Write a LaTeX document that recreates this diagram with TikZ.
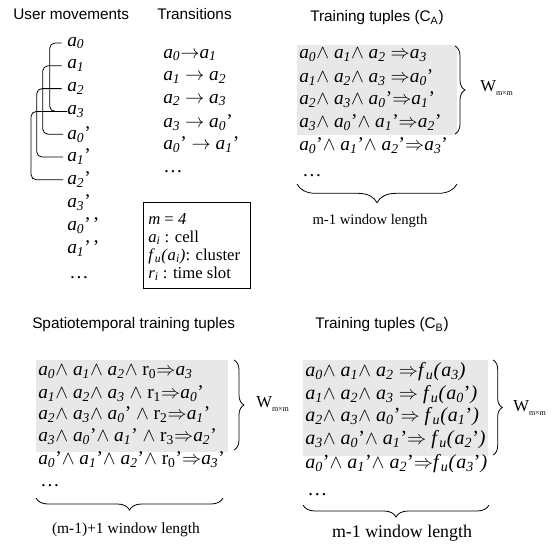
\documentclass[tikz,border=0pt]{standalone}
\usepackage{fontspec}
\setmainfont{Liberation Serif}
\newfontfamily\hdfont{Liberation Sans}
\usetikzlibrary{decorations.pathreplacing,fit}
\definecolor{boxgray}{HTML}{E8E8E8}
\newcommand\sa[1]{\textit{a}\textsubscript{\textit{#1}}}
\newcommand\w{\(\wedge\)}
\newcommand\R{\(\Rightarrow\)}
\newcommand\ra{\(\rightarrow\)}
\newcommand\fu[1]{\textit{f}\textsubscript{\textit{u}}\textit{(}#1\textit{)}}
\newcommand\rr[1]{r\textsubscript{#1}}
\newcommand\wmm{W\raisebox{-2.5pt}{\fontsize{6}{6}\selectfont m×m}}
\begin{document}
\begin{tikzpicture}[x=0.75pt,y=-0.75pt,
  hd/.style={font=\hdfont\fontsize{11.5}{12}\selectfont,inner sep=0,anchor=west},
  ml/.style={font=\fontsize{14.5}{15}\selectfont,inner sep=0,anchor=west},
  mlb/.style={font=\fontsize{15}{16}\selectfont,inner sep=0,anchor=west},
  kl/.style={font=\fontsize{12.5}{13}\selectfont,inner sep=0,anchor=west},
  graybox/.style={fill=boxgray,draw=none,inner sep=0},
  conn/.style={draw=black,line width=0.6pt,rounded corners=4pt},
  brc/.style={draw=black,line width=0.6pt,decorate,decoration={brace,amplitude=#1}},
  wl/.style={font=\fontsize{#1}{#1}\selectfont,inner sep=0}]
\useasboundingbox (0,0) rectangle (555,546);

% headings
\node[hd] (hUM) at (13,14) {User movements};
\node[hd] (hTR) at (157,14) {Transitions};
\node[hd] (hCA) at (310,18) {Training tuples (C\textsubscript{A})};
\node[hd] (hST) at (32,325) {Spatiotemporal training tuples};
\node[hd] (hCB) at (315,325) {Training tuples (C\textsubscript{B})};

% user movements column
\node[ml] (u0) at (67,43) {\sa0};
\node[ml] (u1) at (67,65.8) {\sa1};
\node[ml] (u2) at (67,88.6) {\sa2};
\node[ml] (u3) at (67,111.4) {\sa3};
\node[ml] (u4) at (67,134.2) {\sa0’};
\node[ml] (u5) at (67,157) {\sa1’};
\node[ml] (u6) at (67,179.8) {\sa2’};
\node[ml] (u7) at (67,202.6) {\sa3’};
\node[ml] (u8) at (67,225.4) {\sa0’\kern1.5pt’};
\node[ml] (u9) at (67,248.2) {\sa1’\kern1.5pt’};
\node[ml] (u10) at (69,278) {\dots};

% connectors
\draw[conn] ([xshift=-4pt]u0.west) -- ++(-12,0) |- (u3.west);
\draw[conn] ([xshift=-4pt]u1.west) -- ++(-19,0) |- ([xshift=-3pt]u4.west);
\draw[conn] ([xshift=-4pt]u2.west) -- ++(-25,0) |- ([xshift=-3pt]u5.west);
\draw[conn] (u3.west) -- ++(-36,0) |- ([xshift=-3pt]u6.west);

% transitions
\node[ml] (t0) at (163,55) {\sa0\ra\sa1};
\node[ml] (t1) at (163,77.5) {\sa1 \ra{} \sa2};
\node[ml] (t2) at (163,100) {\sa2 \ra{} \sa3};
\node[ml] (t3) at (163,122.5) {\sa3 \ra{} \sa0’};
\node[ml] (t4) at (163,145) {\sa0’ \ra{} \sa1’};
\node[ml] (t5) at (163,172) {\dots};

% legend box
\node[draw=black,line width=0.6pt,inner sep=0,fit={(143,202) (250,288)}] (key) {};
\node[kl] (k1) at (148,219) {\textit{m} = \textit{4}};
\node[kl] (k2) at (148,238) {\sa{i} : cell};
\node[kl] (k3) at (148,256) {\fu{\sa{i}}: cluster};
\node[kl] (k4) at (148,274) {\textit{r}\textsubscript{\textit{i}} : time slot};

% training tuples C_A
\node[graybox,fit={(297,45) (457,135)}] (gA) {};
\node[ml] (a1) at (299,55) {\sa0\w{} \sa1\w{} \sa2 \R\sa3};
\node[ml] (a2) at (299,77.5) {\sa1\w{} \sa2\w{} \sa3 \R\sa0’};
\node[ml] (a3) at (299,100) {\sa2\w{} \sa3\w{} \sa0’\R\sa1’};
\node[ml] (a4) at (299,122.5) {\sa3\w{} \sa0’\w{} \sa1’\R\sa2’};
\node[ml] (a5) at (299,146) {\sa0’\w{} \sa1’\w{} \sa2’\R\sa3’};
\node[ml] (a6) at (302,176) {\dots};
\draw[brc=7.5pt] (455,46) -- (455,134);
\node[wl=12.5,anchor=west] (wA) at (480,88) {\wmm};
\draw[brc=14pt] (457,184) -- (297,184);
\node[wl=11] (lA) at (370,221) {m-1 window length};

% spatiotemporal
\node[graybox,fit={(36,360) (228,452)}] (gS) {};
\node[ml] (s1) at (38,372) {\sa0\w{} \sa1\w{} \sa2\w{} \rr0\R\sa3};
\node[ml] (s2) at (38,393.5) {\sa1\w{} \sa2\w{} \sa3 \w{} \rr1\R\sa0’};
\node[ml] (s3) at (38,415) {\sa2\w{} \sa3\w{} \sa0’ \w{} \rr2\R\sa1’};
\node[ml] (s4) at (38,437) {\sa3\w{} \sa0’\w{} \sa1’ \w{} \rr3\R\sa2’};
\node[ml] (s5) at (38,460) {\sa0’\w{} \sa1’\w{} \sa2’\w{} \rr0’\R\sa3’};
\node[ml] (s6) at (40,486) {\dots};
\draw[brc=7.5pt] (234,360) -- (234,450);
\node[wl=12.5,anchor=west] (wS) at (256,404) {\wmm};
\draw[brc=9pt] (223,498) -- (36,498);
\node[wl=11.6] (lS) at (126,530) {(m-1)+1 window length};

% training tuples C_B
\node[graybox,fit={(303,360) (488,456)}] (gB) {};
\node[mlb] (b1) at (305,372) {\sa0\w{} \sa1\w{} \sa2 \R\fu{\sa3}};
\node[mlb] (b2) at (305,394.5) {\sa1\w{} \sa2\w{} \sa3 \R{} \fu{\sa0’}};
\node[mlb] (b3) at (305,417) {\sa2\w{} \sa3\w{} \sa0’\R{} \fu{\sa1’}};
\node[mlb] (b4) at (305,440) {\sa3\w{} \sa0’\w{} \sa1’\R{} \fu{\sa2’}};
\node[mlb] (b5) at (305,464) {\sa0’\w{} \sa1’\w{} \sa2’\R\fu{\sa3’}};
\node[mlb] (b6) at (307,495) {\dots};
\draw[brc=7pt] (493,360) -- (493,455);
\node[wl=12.5,anchor=west] (wB) at (513,408) {\wmm};
\draw[brc=9pt] (489,505) -- (303,505);
\node[wl=13.4] (lB) at (402,533) {m-1 window length};
\end{tikzpicture}
\end{document}
